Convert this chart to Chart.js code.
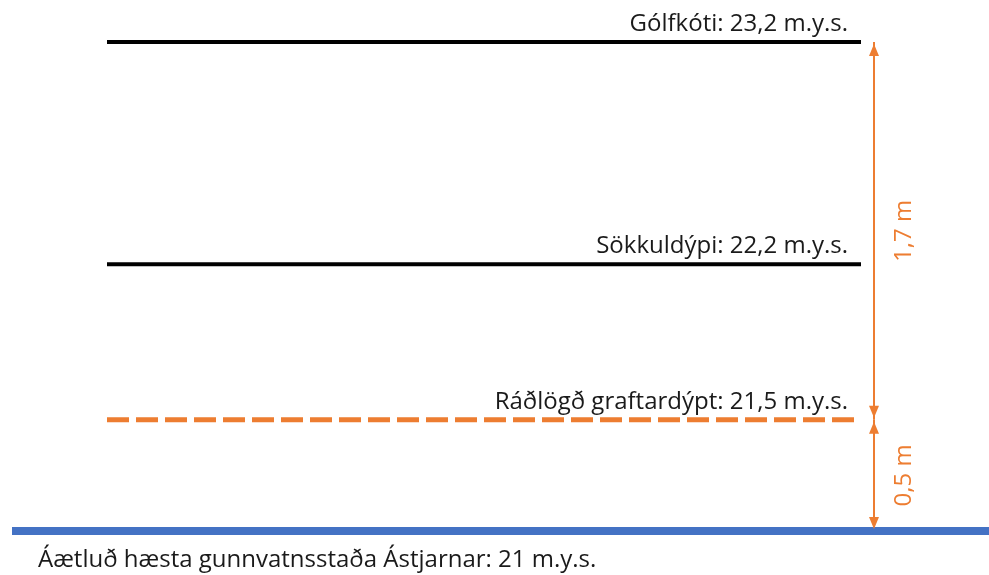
<!DOCTYPE html>
<html>
<head>
<meta charset="utf-8">
<script src="https://cdn.jsdelivr.net/npm/chart.js@4"></script>
<style>
    html, body { margin: 0; padding: 0; background: #fff; }
    #wrap { width: 989px; height: 575px; }
</style>
</head>
<body>
<div id="wrap"><canvas id="levelChart"></canvas></div>
<script>
// Levels (m.y.s.) shown in the drawing
const levelNames = ["Gólfkóti", "Sökkuldýpi", "Ráðlögð graftardýpt", "Áætluð hæsta gunnvatnsstaða Ástjarnar"];
const levelValues = [23.2, 22.2, 21.5, 21];
const levelLabels = ["Gólfkóti: 23,2 m.y.s.", "Sökkuldýpi: 22,2 m.y.s.", "Ráðlögð graftardýpt: 21,5 m.y.s.", "Áætluð hæsta gunnvatnsstaða Ástjarnar: 21 m.y.s."];
// Dimension arrows: [from, to, label]
const dimFrom = [23.2, 21.5];
const dimTo = [21.5, 21];
const dimLabels = ["1,7 m", "0,5 m"];

const colors = {
    black: '#000000',
    orange: '#ED7D31',
    blue: '#4472C4',
    text: '#1a1a1a'
};
const FONT = '"Open Sans", sans-serif';

// x runs 0..989 across the canvas
const lineStart = 107, lineEnd = 861, arrowX = 874;

function hLine(i, x0, x1, color, width, dash) {
    return {
        label: levelNames[i],
        data: [{ x: x0, y: levelValues[i] }, { x: x1, y: levelValues[i] }],
        borderColor: color,
        borderWidth: width,
        borderDash: dash || [],
        pointRadius: 0,
        borderCapStyle: 'butt'
    };
}

const datasets = [
    hLine(0, lineStart, lineEnd, colors.black, 4),
    hLine(1, lineStart, lineEnd, colors.black, 4),
    hLine(2, lineStart, lineEnd, colors.orange, 5, [22, 7]),
    hLine(3, 12, 989, colors.blue, 8)
];
dimFrom.forEach((f, i) => {
    datasets.push({
        label: dimLabels[i],
        data: [{ x: arrowX, y: f }, { x: arrowX, y: dimTo[i] }],
        borderColor: colors.orange,
        borderWidth: 2,
        pointRadius: 0
    });
});

// text labels and arrowheads
const annotate = {
    id: 'annotate',
    afterDatasetsDraw(chart) {
        const ctx = chart.ctx;
        const xs = chart.scales.x, ys = chart.scales.y;
        ctx.save();
        ctx.font = '24px ' + FONT;
        ctx.fillStyle = colors.text;
        ctx.textBaseline = 'alphabetic';
        for (let i = 0; i < 3; i++) {
            const y = ys.getPixelForValue(levelValues[i]);
            ctx.textAlign = 'right';
            ctx.fillText(levelLabels[i], xs.getPixelForValue(lineEnd) - 13, y - 11);
        }
        ctx.textAlign = 'left';
        ctx.fillText(levelLabels[3], xs.getPixelForValue(38), ys.getPixelForValue(levelValues[3]) + 36);

        // arrows
        const ax = xs.getPixelForValue(arrowX);
        ctx.fillStyle = colors.orange;
        const head = (tipY, dir) => {
            ctx.beginPath();
            ctx.moveTo(ax, tipY);
            ctx.lineTo(ax - 5, tipY + dir * 12);
            ctx.lineTo(ax + 5, tipY + dir * 12);
            ctx.closePath();
            ctx.fill();
        };
        dimFrom.forEach((f, i) => {
            const y0 = ys.getPixelForValue(f) + 2;
            const y1 = ys.getPixelForValue(dimTo[i]) - 2;
            head(y0, 1);
            head(y1, -1);
            ctx.save();
            ctx.translate(ax + 30, (y0 + y1) / 2);
            ctx.rotate(-Math.PI / 2);
            ctx.textAlign = 'center';
            ctx.textBaseline = 'middle';
            ctx.fillText(dimLabels[i], 0, 0);
            ctx.restore();
        });
        ctx.restore();
    }
};

// 23.2 sits at y=42, 21 at y=531 in a 575 px tall area
const pxPerM = (531 - 42) / (23.2 - 21);

new Chart(document.getElementById('levelChart'), {
    type: 'line',
    data: { datasets: datasets },
    options: {
        responsive: true,
        maintainAspectRatio: false,
        animation: false,
        layout: { padding: 0 },
        plugins: {
            legend: { display: false },
            tooltip: { enabled: false }
        },
        scales: {
            x: { type: 'linear', display: false, min: 0, max: 989 },
            y: {
                type: 'linear',
                display: false,
                min: 21 - 44 / pxPerM,
                max: 23.2 + 42 / pxPerM
            }
        }
    },
    plugins: [annotate]
});
</script>
</body>
</html>
